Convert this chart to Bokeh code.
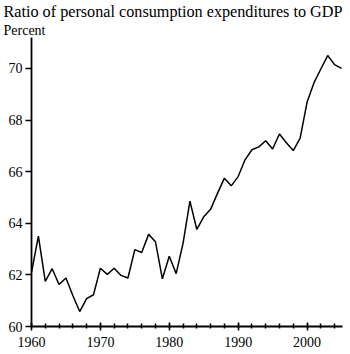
from bokeh.plotting import figure
from bokeh.models import Range1d, Title, FixedTicker
from bokeh.embed import file_html
from bokeh.resources import INLINE

years = list(range(1960, 2006))
ratio = [62.1, 63.5, 61.75, 62.24, 61.63, 61.88, 61.2, 60.58, 61.08, 61.23,
         62.26, 62.02, 62.26, 61.98, 61.88, 62.98, 62.87, 63.57, 63.28, 61.85,
         62.72, 62.05, 63.22, 64.86, 63.76, 64.25, 64.54, 65.16, 65.75, 65.45,
         65.81, 66.46, 66.85, 66.96, 67.2, 66.88, 67.46, 67.12, 66.82, 67.3,
         68.69, 69.44, 69.98, 70.5, 70.15, 70.0]

x_ticks = [1960, 1970, 1980, 1990, 2000]
x_minor = list(range(1960, 2006, 2))
y_ticks = [60, 62, 64, 66, 68, 70]

FONT = "Liberation Serif"

p = figure(width=350, height=354, output_backend="svg", toolbar_location=None,
           x_range=Range1d(1960, 2005.15), y_range=Range1d(60, 71.2),
           min_border_left=31, min_border_right=8, min_border_top=10, min_border_bottom=28)
p.title = None

t2 = Title(text="Percent", align="left", offset=-28, text_font=FONT, text_font_size="14px",
           text_font_style="normal", text_color="black", standoff=0)
t1 = Title(text="Ratio of personal consumption expenditures to GDP", align="left", offset=-28,
           text_font=FONT, text_font_size="16.2px", text_font_style="normal", text_color="black", standoff=0)
p.add_layout(t2, "above")
p.add_layout(t1, "above")

p.line(years, ratio, line_color="black", line_width=1.5)

p.grid.visible = False
p.outline_line_color = None
p.background_fill_color = "white"
p.border_fill_color = "white"

xa = p.xaxis[0]
xa.ticker = FixedTicker(ticks=x_ticks, minor_ticks=x_minor)
xa.axis_line_color = "black"
xa.axis_line_width = 1.8
xa.major_tick_line_color = "black"
xa.major_tick_line_width = 1.5
xa.major_tick_in = 4
xa.major_tick_out = 4
xa.minor_tick_line_color = "black"
xa.minor_tick_line_width = 1.5
xa.minor_tick_in = 3
xa.minor_tick_out = 2
xa.major_label_text_font = FONT
xa.major_label_text_font_size = "14px"
xa.major_label_text_color = "black"
xa.major_label_standoff = 6

ya = p.yaxis[0]
ya.ticker = FixedTicker(ticks=y_ticks)
ya.axis_line_color = "black"
ya.axis_line_width = 1.8
ya.major_tick_line_color = "black"
ya.major_tick_line_width = 1.5
ya.major_tick_in = 0
ya.major_tick_out = 6
ya.minor_tick_line_color = None
ya.major_label_text_font = FONT
ya.major_label_text_font_size = "14px"
ya.major_label_text_color = "black"
ya.major_label_standoff = 3

open("out.html", "w").write(file_html(p, INLINE))
